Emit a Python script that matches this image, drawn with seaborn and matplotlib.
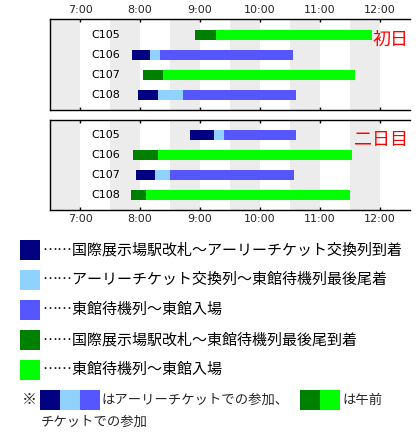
import matplotlib
matplotlib.use("Agg")
import matplotlib.pyplot as plt
from matplotlib.patches import Rectangle
import seaborn as sns

# --- data ---
rows = ["C105", "C106", "C107", "C108"]
hours = [7, 8, 9, 10, 11, 12]
hour_labels = ["7:00", "8:00", "9:00", "10:00", "11:00", "12:00"]

# segment boundaries per row ("early" = 3 segments, "gozen" = 2 segments)
day1_type = ["gozen", "early", "gozen", "early"]
day1_times = [["8:55", "9:16", "11:52"],
              ["7:52", "8:10", "8:20", "10:33"],
              ["8:03", "8:23", "11:35"],
              ["7:58", "8:18", "8:43", "10:36"]]
day2_type = ["early", "gozen", "early", "gozen"]
day2_times = [["8:50", "9:14", "9:24", "10:36"],
              ["7:53", "8:18", "11:32"],
              ["7:56", "8:15", "8:30", "10:34"],
              ["7:51", "8:06", "11:30"]]

day_labels = ["初日", "二日目"]

early_colors = ["#000080", "#90d2fe", "#5656ff"]
gozen_colors = ["#008000", "#00ff00"]

legend_labels = ["国際展示場駅改札～アーリーチケット交換列到着",
                 "アーリーチケット交換列～東館待機列最後尾着",
                 "東館待機列～東館入場",
                 "国際展示場駅改札～東館待機列最後尾到着",
                 "東館待機列～東館入場"]
legend_colors = early_colors + gozen_colors

sns.set_theme(style="white")
plt.rcParams['font.family'] = ['DejaVu Sans']
JP = ['Noto Sans CJK JP', 'DejaVu Sans']


def to_hours(s):
    h, m = s.split(":")
    return int(h) + int(m) / 60


def draw_day(ax, types, times, label, top_labels, ylim_top):
    for h in hours:
        ax.axvspan(h - 0.5, h, color="#ececec", lw=0, zorder=0)
    for i, (t, seg) in enumerate(zip(types, times)):
        cols = early_colors if t == "early" else gozen_colors
        vals = [to_hours(s) for s in seg]
        for j, c in enumerate(cols):
            ax.barh(i, vals[j + 1] - vals[j], left=vals[j], height=0.5,
                    color=c, lw=0, zorder=2)
        ax.text(7.67, i, rows[i], ha="right", va="center", fontsize=8,
                color="black", zorder=3)
    ax.text(12.47, 0.25, label, ha="right", va="center", fontsize=13,
            color="red", family=JP, zorder=3)
    ax.set_xlim(6.5, 12.5)
    ax.set_ylim(3.75, ylim_top)
    ax.set_yticks([])
    ax.set_xticks(hours)
    ax.set_xticklabels(hour_labels, fontsize=8)
    ax.tick_params(axis="x", direction="in", length=2, width=1, color="black",
                   top=True, bottom=True, labeltop=top_labels,
                   labelbottom=not top_labels, pad=3)
    sns.despine(ax=ax, right=True, top=False, left=False, bottom=False)
    for s in ["left", "top", "bottom"]:
        ax.spines[s].set_color("black")
        ax.spines[s].set_linewidth(1.0)
    ax.set_facecolor("white")


fig = plt.figure(figsize=(4.2, 4.4), dpi=100)
W, H = 420, 440
ax1 = fig.add_axes([50 / W, 1 - 110 / H, 360 / W, 91 / H])
ax2 = fig.add_axes([50 / W, 1 - 210 / H, 360 / W, 90 / H])
draw_day(ax1, day1_type, day1_times, day_labels[0], True, -0.8)
draw_day(ax2, day2_type, day2_times, day_labels[1], False, -0.75)

# legend drawn in pixel-like coordinates
lg = fig.add_axes([0, 0, 1, 1])
lg.set_xlim(0, W)
lg.set_ylim(H, 0)
lg.axis("off")
lg.patch.set_visible(False)
for k, (txt, c) in enumerate(zip(legend_labels, legend_colors)):
    y = 240 + 30 * k
    lg.add_patch(Rectangle((20, y), 20, 20, color=c, lw=0))
    lg.text(42, y + 10, "……" + txt, ha="left", va="center",
            fontsize=10.8, family=JP, color="black")

lg.text(22, 400, "※", ha="left", va="center", fontsize=10.8, family=JP)
for j, c in enumerate(early_colors):
    lg.add_patch(Rectangle((40 + 20 * j, 390), 20, 20, color=c, lw=0))
lg.text(101, 400, "はアーリーチケットでの参加、", ha="left", va="center",
        fontsize=9.6, family=JP)
for j, c in enumerate(gozen_colors):
    lg.add_patch(Rectangle((300 + 20 * j, 390), 20, 20, color=c, lw=0))
lg.text(342, 400, "は午前", ha="left", va="center", fontsize=9.6, family=JP)
lg.text(41, 422, "チケットでの参加", ha="left", va="center", fontsize=9.6,
        family=JP)

fig.savefig("out.png", dpi=100)
